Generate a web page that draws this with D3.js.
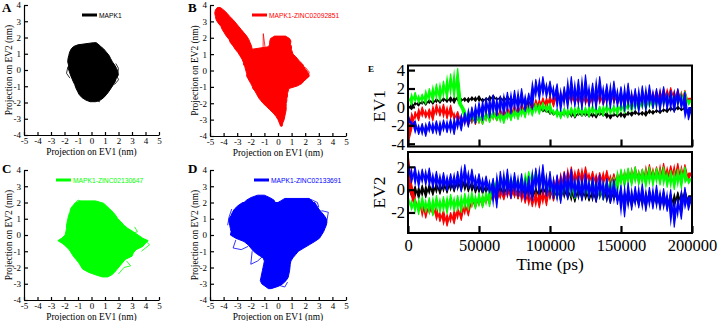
<!DOCTYPE html>
<html><head><meta charset="utf-8">
<script src="https://cdn.jsdelivr.net/npm/d3@7"></script>
<style>body{margin:0;background:#fff}svg{display:block}</style>
</head><body><svg id="c" width="720" height="321"></svg>
<script>
// ---------- Projection panels: rows [EV2, EV1 left edge, EV1 right edge] (nm) ----------
const blobA = [[1.68,0.15,0.35],[1.55,-1.0,0.55],[1.45,-1.32,0.68],[1.3,-1.5,0.9],[1.1,-1.62,1.1],[0.9,-1.68,1.3],[0.7,-1.74,1.42],[0.5,-1.76,1.55],[0.3,-1.7,1.72],[0.1,-1.72,1.86],[-0.1,-1.64,1.95],[-0.3,-1.56,1.99],[-0.5,-1.46,1.84],[-0.7,-1.36,1.76],[-0.9,-1.24,1.62],[-1.1,-1.16,1.46],[-1.3,-1.04,1.3],[-1.5,-0.92,1.12],[-1.7,-0.7,0.9],[-1.85,-0.42,0.66],[-1.95,-0.1,0.3]];
const blobBArm = [[3.85,-4.45,-4.25],[3.7,-4.6,-4.0],[3.5,-4.65,-3.75],[3.3,-4.6,-3.55],[3.1,-4.55,-3.3],[2.9,-4.4,-3.1],[2.7,-4.2,-2.9],[2.5,-4.1,-2.7],[2.3,-3.95,-2.5],[2.1,-3.8,-2.3],[1.9,-3.6,-2.15],[1.7,-3.5,-2.05],[1.5,-3.3,-1.95],[1.3,-3.15,-1.9],[1.1,-2.95,-1.9],[0.9,-2.8,-2.1],[0.7,-2.65,-2.2],[0.5,-2.55,-2.3]];
const blobBBody = [[2.1,-0.25,0.55],[1.95,-0.55,0.85],[1.8,-0.6,0.95],[1.6,-0.62,0.92],[1.45,-0.7,1.0],[1.3,-1.9,0.98],[1.15,-2.2,1.05],[1.0,-2.4,1.1],[0.85,-2.45,1.3],[0.7,-2.5,1.45],[0.55,-2.5,1.6],[0.4,-2.55,1.8],[0.25,-2.45,1.9],[0.1,-2.4,2.0],[-0.05,-2.35,2.15],[-0.2,-2.3,2.25],[-0.35,-2.3,2.3],[-0.5,-2.2,2.1],[-0.65,-2.1,1.9],[-0.8,-2.0,1.75],[-0.95,-1.9,1.4],[-1.1,-1.85,0.8],[-1.25,-1.7,0.75],[-1.4,-1.6,0.7],[-1.55,-1.5,0.7],[-1.7,-1.4,0.65],[-1.85,-1.25,0.65],[-2.0,-1.1,0.6],[-2.2,-0.85,0.6],[-2.4,-0.6,0.6],[-2.6,-0.35,0.55],[-2.8,-0.15,0.5],[-3.0,0.0,0.45],[-3.2,0.1,0.35],[-3.4,0.2,0.3]];
const blobC = [[2.1,-0.9,0.3],[1.95,-1.2,0.9],[1.8,-1.4,1.1],[1.6,-1.55,1.35],[1.4,-1.6,1.6],[1.2,-1.7,1.8],[1.0,-1.75,1.95],[0.8,-1.8,2.2],[0.6,-1.85,2.4],[0.4,-1.85,2.7],[0.2,-1.9,3.1],[0.0,-1.95,3.45],[-0.2,-2.2,3.8],[-0.35,-2.45,4.2],[-0.5,-2.15,4.0],[-0.7,-1.9,3.8],[-0.9,-1.65,3.3],[-1.1,-1.5,3.1],[-1.3,-1.35,3.0],[-1.5,-1.15,2.5],[-1.7,-0.95,2.3],[-1.9,-0.8,2.1],[-2.1,-0.65,1.9],[-2.3,-0.2,1.7],[-2.45,0.3,1.5],[-2.58,0.8,1.2]];
const blobDMain = [[2.0,-2.6,2.7],[1.8,-2.95,2.85],[1.6,-3.2,3.0],[1.4,-3.35,3.2],[1.2,-3.45,3.4],[1.0,-3.6,3.55],[0.8,-3.6,3.6],[0.6,-3.55,3.55],[0.4,-3.5,3.45],[0.2,-3.45,3.35],[0.0,-3.5,3.2],[-0.2,-3.1,3.05],[-0.4,-2.5,2.7],[-0.6,-2.2,2.3],[-0.8,-2.0,1.9],[-1.0,-1.8,1.5],[-1.2,-1.5,1.3],[-1.4,-1.1,1.1],[-1.6,-1.0,0.95],[-1.8,-1.05,0.9],[-2.0,-1.1,0.88],[-2.2,-1.15,0.85],[-2.4,-1.2,0.8],[-2.6,-1.25,0.75],[-2.8,-1.3,0.6],[-3.0,-1.2,0.35],[-3.15,-0.95,0.05],[-3.3,-0.7,-0.5]];
const blobDLobeL = [[2.45,-1.5,-1.0],[2.3,-2.0,-0.6],[2.15,-2.3,-0.3],[2.0,-2.5,-0.2]];
const blobDLobeR = [[2.25,0.5,2.3],[2.1,0.2,2.5],[2.0,0.0,2.6]];
// loose excursions of the trajectories at the fringes [EV1, EV2]
const strokesA = [[[-0.5,1.3],[-0.35,1.45],[-0.2,1.15],[0.0,1.4]],[[1.8,0.4],[2.0,0.1],[1.9,-0.4],[2.0,-0.6],[1.7,-0.9]],[[-1.75,0.2],[-1.85,-0.2],[-1.6,-0.5]],[[0.4,-1.8],[0.6,-1.95],[0.2,-1.85]]];
const strokesB = [[[-1.1,1.3],[-1.08,2.25],[-0.95,1.4]],[[-3.0,1.5],[-2.3,0.6],[-2.8,1.2]],[[2.0,0.2],[2.3,-0.1],[2.2,-0.4],[1.9,-0.6]],[[0.5,-2.6],[0.35,-3.0],[0.15,-3.35]]];
const strokesC = [[[3.9,-0.3],[4.3,-0.6],[3.7,-1.0]],[[-2.2,-0.2],[-2.5,-0.35],[-2.0,-0.6]],[[2.6,-1.6],[2.9,-1.9],[2.4,-2.0],[2.0,-2.4]],[[-1.3,1.9],[-1.0,2.15],[-0.6,2.0]],[[3.2,0.5],[3.4,0.2],[3.0,0.1]]];
const strokesD = [[[-3.1,-0.3],[-3.3,-0.8],[-2.7,-0.9],[-2.2,-0.7]],[[-1.9,-1.0],[-2.0,-1.8],[-1.5,-1.6],[-1.1,-1.3]],[[3.3,0.3],[3.6,0.9],[3.7,1.4],[3.2,1.5]],[[2.4,2.2],[2.9,2.0],[3.0,1.7]],[[-3.4,1.6],[-3.6,1.1],[-3.7,0.6]],[[0.7,-2.9],[0.5,-3.2],[0.1,-3.1]]];
const projTicksX = [-5,-4,-3,-2,-1,0,1,2,3,4,5];
const projTicksY = [-4,-3,-2,-1,0,1,2,3,4];

// ---------- Time series (every 2500 ps, 0..200000) ----------
const timeStep = 2500;
const ev1Black = [0.2,-0.3,0.5,0.1,0.7,0.2,0.8,0.3,0.9,0.4, 1.0,0.5,1.1,0.4,1.2,0.6,1.0,0.5,1.1,0.6, 1.2,0.5,1.0,0.6,1.3,0.7,1.1,0.5,1.2,0.6, 1.0,0.4,0.9,0.2,0.6,0.0,0.3,-0.3,-0.1,-0.6, -0.3,-0.9,-0.4,-1.1,-0.5,-1.0,-0.4,-1.2,-0.6,-1.0, -0.5,-1.1,-0.6,-1.2,-0.5,-1.0,-0.6,-1.3,-0.7,-1.1, -0.6,-1.2,-0.5,-1.0,-0.4,-0.9,-0.5,-1.0,-0.3,-0.8, -0.3,-0.7,-0.2,-0.6,0.0,-0.5,0.1,-0.4,0.0,-0.5, -0.2];
const ev1Red = [-4.0,-2.5,-0.5,-1.5,0.0,-1.2,-0.2,-1.5,0.3,-1.0, 0.3,-1.3,0.2,-1.4,-0.5,-1.8,-0.8,-2.0,-1.0,-1.9, -0.8,-1.9,-0.6,-1.6,-0.4,-1.5,-0.2,-1.3,0.0,-1.2, 0.2,-1.0,0.4,-0.8,0.5,-0.6,0.8,-0.3,1.0,-0.2, 1.2,0.0,1.5,0.2,1.8,0.4,1.6,0.3,1.4,0.2, 1.5,0.1,1.3,0.3,1.6,0.2,1.4,0.4,1.5,0.3, 1.3,0.2,1.5,0.4,1.6,0.3,1.4,0.5,1.7,0.4, 1.8,0.5,2.0,0.6,2.1,0.7,1.9,0.5,1.8,0.4, 1.0];
const ev1Green = [1.2,0.2,1.6,0.4,1.4,0.3,2.0,0.5,2.5,0.6, 2.8,0.8,3.6,1.0,4.2,0.4,-0.3,-1.6,-0.6,-1.8, -0.7,-1.9,-0.5,-1.7,-0.3,-1.5,-0.6,-1.8,-0.4,-1.5, -0.2,-1.4,0.0,-1.2,0.3,-1.0,0.4,-0.8,0.5,-0.6, 0.4,-0.9,-0.2,-1.3,-0.1,-1.2,0.0,-1.1,0.1,-1.0, 0.0,-1.1,0.2,-0.9,0.1,-1.0,0.3,-0.8,0.2,-0.9, 0.4,-0.7,0.6,-0.5,0.8,-0.4,0.9,-0.3,1.0,-0.2, 1.2,-0.1,1.4,0.0,1.6,0.1,1.5,0.0,1.7,0.2, 0.8];
const ev1Blue = [-0.8,-2.0,-1.5,-3.0,-1.8,-3.2,-1.6,-2.9,-1.5,-3.1, -1.4,-2.8,-1.3,-3.0,-1.0,-2.6,-0.6,-2.2,0.0,-1.8, 0.5,-1.5,1.0,-1.2,1.3,-1.0,1.2,-0.9,1.6,-0.8, 1.8,-0.6,2.0,-0.5,1.5,-0.3,3.0,0.8,3.3,1.0, 2.8,0.8,2.5,-0.5,2.2,-0.2,3.3,0.0,3.0,-0.3, 3.5,0.0,2.6,-0.3,3.3,0.2,2.5,-0.2,2.8,0.0, 2.2,-0.5,2.6,-0.3,2.0,-0.6,2.3,-0.4,2.4,-0.2, 2.0,-0.5,2.2,-0.3,1.8,-0.6,2.0,-0.2,1.6,-1.4, 0.0];
const ev2Black = [0.5,-0.6,0.3,-0.8,0.4,-0.7,0.5,-0.5,0.6,-0.4, 0.7,-0.3,0.8,-0.2,0.9,-0.1,1.0,-0.2,0.8,-0.3, 0.6,-0.4,0.5,-0.5,0.7,-0.6,0.4,-0.7,0.5,-0.6, 0.4,-0.8,0.3,-0.7,0.5,-0.9,0.2,-0.8,0.4,-0.6, 0.3,-0.9,0.2,-1.0,0.4,-0.8,0.1,-1.1,0.3,-0.9, 0.2,-1.0,0.0,-1.1,0.3,-0.9,0.1,-1.2,0.0,-1.0, -0.2,-1.3,-0.1,-1.5,-0.3,-1.4,-0.2,-1.6,-0.1,-1.3, -0.3,-1.5,-0.2,-1.7,-0.4,-1.6,-0.2,-1.4,0.0,-1.2, -0.5];
const ev2Red = [3.2,0.5,-0.8,-1.8,-1.0,-2.5,-1.2,-2.2,-1.5,-2.8, -1.8,-3.2,-2.0,-3.0,-1.6,-2.7,-1.2,-2.3,-0.8,-1.6, -0.6,-1.5,-0.4,-1.3,-0.2,-1.1,0.0,-0.9,0.2,-0.8, 0.3,-0.8,0.2,-1.2,0.0,-1.5,-0.2,-1.6,0.0,-1.4, 0.3,-1.0,1.2,-0.2,1.6,0.2,2.0,0.3,1.8,0.4, 2.0,0.5,1.6,0.3,1.5,0.4,1.7,0.3,1.4,0.2, 1.6,0.4,1.8,0.5,2.0,0.6,1.8,0.5,2.2,0.7, 2.0,0.6,2.3,0.7,2.1,0.8,2.3,0.6,2.2,0.9, 1.5];
const ev2Green = [-0.5,-1.8,-0.8,-2.2,-0.6,-2.0,-0.7,-2.3,-0.5,-2.0, -0.6,-2.1,-0.4,-1.9,-0.5,-2.0,-0.3,-1.8,-0.2,-1.7, -0.3,-1.6,-0.2,-1.5,0.8,-0.3,1.2,0.0,1.4,0.1, 1.2,0.0,1.0,-0.2,1.6,0.3,1.7,0.2,1.5,0.0, 0.8,-0.6,0.6,-0.9,0.9,-0.5,0.7,-0.8,1.0,-0.4, 0.8,-0.7,1.0,-0.5,0.6,-0.9,0.9,-0.6,1.1,-0.3, 1.8,0.2,1.9,0.3,2.0,0.4,1.8,0.2,2.0,0.3, 1.9,0.4,2.0,0.2,1.7,0.0,1.8,0.1,2.0,0.5, 1.0];
const ev2Blue = [2.6,0.6,2.0,0.2,1.8,0.4,1.9,0.1,1.6,0.0, 1.5,-0.1,1.4,0.0,1.6,-0.2,2.2,0.1,1.8,0.0, 1.4,-0.2,1.2,-0.3,1.0,-1.6,1.6,-0.5,1.8,-0.8, 1.5,-0.6,1.4,-0.9,1.2,-1.0,1.9,-0.4,2.2,-0.6, 1.6,-0.8,1.3,-1.2,1.5,-0.9,1.8,-0.7,1.2,-1.0, 1.4,-0.8,1.1,-1.1,1.3,-0.9,1.0,-1.2,0.9,-1.3, 0.4,-2.4,0.6,-1.8,0.3,-1.6,0.5,-1.9,0.2,-1.7, 0.4,-1.8,0.1,-1.9,0.0,-3.3,-0.8,-2.6,0.2,-1.8, -0.6];
const timeTicks = [0,50000,100000,150000,200000];
const ev1Ticks = [-4,-2,0,2,4];
const ev2Ticks = [-2,0,2];

const BLACK="#000000", RED="#ff0000", GREEN="#00ff00", BLUE="#0000ff";
const serif = "'Liberation Serif','Times New Roman',Tinos,'Nimbus Roman',serif";
const sans = "'Liberation Sans',Arial,Arimo,sans-serif";
const svg = d3.select("#c");

// normalise serif sizes to Times metrics (width of a reference string)
const probe = svg.append("text").attr("font-family",serif).attr("font-size",100).text("Projection on EV1 (nm)");
const K = 963.8 / probe.node().getComputedTextLength();
probe.remove();
const fsz = s => s*K;

function styleAxis(a, fs){
  a.selectAll("text").attr("font-family",serif).attr("font-size",fsz(fs)).attr("fill","#000");
  a.selectAll("line,path").attr("stroke","#000");
}

function projPanel(o){
  const x = d3.scaleLinear().domain([-5,5]).range([o.x0,o.x1]);
  const y = d3.scaleLinear().domain([-4,4]).range([o.y1,o.y0]);
  const g = svg.append("g");
  const area = d3.area().y(d=>y(d[0])).x0(d=>x(d[1])).x1(d=>x(d[2]));
  o.blobs.forEach(rows=>{
    g.append("path").attr("d",area(rows)).attr("fill",o.color)
      .attr("stroke",o.color).attr("stroke-width",1).attr("stroke-linejoin","round");
  });
  const line = d3.line().x(d=>x(d[0])).y(d=>y(d[1]));
  o.strokes.forEach(s=>g.append("path").attr("d",line(s)).attr("fill","none").attr("stroke",o.color).attr("stroke-width",0.8));
  const ax = g.append("g").attr("transform",`translate(0,${o.y1})`)
    .call(d3.axisBottom(x).tickValues(projTicksX).tickSize(-3).tickSizeOuter(0).tickPadding(3).tickFormat(d=>String(d)));
  const ay = g.append("g").attr("transform",`translate(${o.x0},0)`)
    .call(d3.axisLeft(y).tickValues(projTicksY).tickSize(-4).tickSizeOuter(0).tickPadding(3).tickFormat(d=>String(d)));
  [ax,ay].forEach(a=>{styleAxis(a,9); a.selectAll("line,path").attr("stroke-width",1.2);});
  g.append("text").attr("x",(o.x0+o.x1)/2).attr("y",o.y1+19.5).attr("text-anchor","middle")
    .attr("font-family",serif).attr("font-size",fsz(9.4)).text("Projection on EV1 (nm)");
  g.append("text").attr("transform",`translate(${o.x0-12},${(o.y0+o.y1)/2}) rotate(-90)`).attr("text-anchor","middle")
    .attr("font-family",serif).attr("font-size",fsz(9.4)).text("Projection on EV2 (nm)");
  g.append("text").attr("x",o.px).attr("y",o.py).attr("font-family",serif).attr("font-weight","bold").attr("font-size",fsz(13)).text(o.letter);
  g.append("line").attr("x1",o.lx).attr("x2",o.lx+15).attr("y1",o.ly).attr("y2",o.ly).attr("stroke",o.color).attr("stroke-width",3);
  g.append("text").attr("x",o.lx+17).attr("y",o.ly+2.5).attr("font-family",sans).attr("font-size",6.7).attr("fill",o.color).text(o.label);
}

projPanel({x0:24,x1:159,y0:5,y1:135,color:BLACK,blobs:[blobA],strokes:strokesA,letter:"A",px:2,py:12,lx:82,ly:15,label:"MAPK1"});
projPanel({x0:210,x1:346,y0:5,y1:136,color:RED,blobs:[blobBArm,blobBBody],strokes:strokesB,letter:"B",px:188,py:12,lx:252,ly:15,label:"MAPK1-ZINC02092851"});
projPanel({x0:24,x1:159,y0:170,y1:300,color:GREEN,blobs:[blobC],strokes:strokesC,letter:"C",px:2,py:173,lx:56,ly:180,label:"MAPK1-ZINC02130647"});
projPanel({x0:210,x1:346,y0:170,y1:300,color:BLUE,blobs:[blobDMain,blobDLobeL,blobDLobeR],strokes:strokesD,letter:"D",px:188,py:173,lx:254,ly:180,label:"MAPK1-ZINC02133691"});

// ---------- E ----------
const tx = d3.scaleLinear().domain([0,200000]).range([408,692]);
function evPanel(o){
  const y = d3.scaleLinear().domain(o.dom).range([o.y1,o.y0]);
  const g = svg.append("g");
  const id = "clip"+o.name;
  svg.append("clipPath").attr("id",id).append("rect").attr("x",408).attr("y",o.y0).attr("width",284).attr("height",o.y1-o.y0);
  const line = d3.line().x((d,i)=>tx(i*timeStep)).y(d=>y(d));
  // band between each sample and the next one (dense trajectory look)
  const band = d3.area().x((d,i)=>tx(i*timeStep)).y0(d=>y(d)).y1((d,i,a)=>y(a[Math.min(i+1,a.length-1)]));
  const gl = g.append("g").attr("clip-path",`url(#${id})`);
  o.series.forEach(s=>{
    gl.append("path").attr("d",band(s.v)).attr("fill",s.c).attr("stroke","none");
    gl.append("path").attr("d",line(s.v)).attr("fill","none").attr("stroke",s.c).attr("stroke-width",1.1).attr("stroke-linejoin","round");
  });
  const ay = g.append("g").attr("transform","translate(408,0)")
    .call(d3.axisLeft(y).tickValues(o.ticks).tickSize(-7).tickSizeOuter(0).tickPadding(3).tickFormat(d=>String(d)));
  styleAxis(ay,16.5); ay.selectAll("line").attr("stroke-width",2.2); ay.select("path").remove();
  const ax = g.append("g").attr("transform",`translate(0,${o.y1})`)
    .call(d3.axisBottom(tx).tickValues(timeTicks).tickSize(-7).tickSizeOuter(0).tickPadding(6).tickFormat(d=>String(d)));
  styleAxis(ax,16.5); ax.selectAll("line").attr("stroke-width",2.2); ax.select("path").remove();
  if(!o.labels) ax.selectAll("text").remove();
  g.append("rect").attr("x",408).attr("y",o.y0).attr("width",284).attr("height",o.y1-o.y0).attr("fill","none").attr("stroke","#000").attr("stroke-width",2);
  g.append("text").attr("transform",`translate(385,${(o.y0+o.y1)/2}) rotate(-90)`).attr("text-anchor","middle")
    .attr("font-family",serif).attr("font-size",fsz(17.4)).text(o.title);
}
evPanel({name:"ev1",y0:65.5,y1:146.5,dom:[-4.3,4.5],ticks:ev1Ticks,title:"EV1",labels:false,
  series:[{v:ev1Black,c:BLACK},{v:ev1Red,c:RED},{v:ev1Green,c:GREEN},{v:ev1Blue,c:BLUE}]});
evPanel({name:"ev2",y0:152,y1:233,dom:[-3.8,3.3],ticks:ev2Ticks,title:"EV2",labels:true,
  series:[{v:ev2Black,c:BLACK},{v:ev2Red,c:RED},{v:ev2Green,c:GREEN},{v:ev2Blue,c:BLUE}]});
svg.append("text").attr("x",550).attr("y",270).attr("text-anchor","middle").attr("font-family",serif).attr("font-size",fsz(17.4)).text("Time (ps)");
svg.append("text").attr("x",368).attr("y",72).attr("font-family",serif).attr("font-weight","bold").attr("font-size",fsz(9)).text("E");
</script></body></html>
